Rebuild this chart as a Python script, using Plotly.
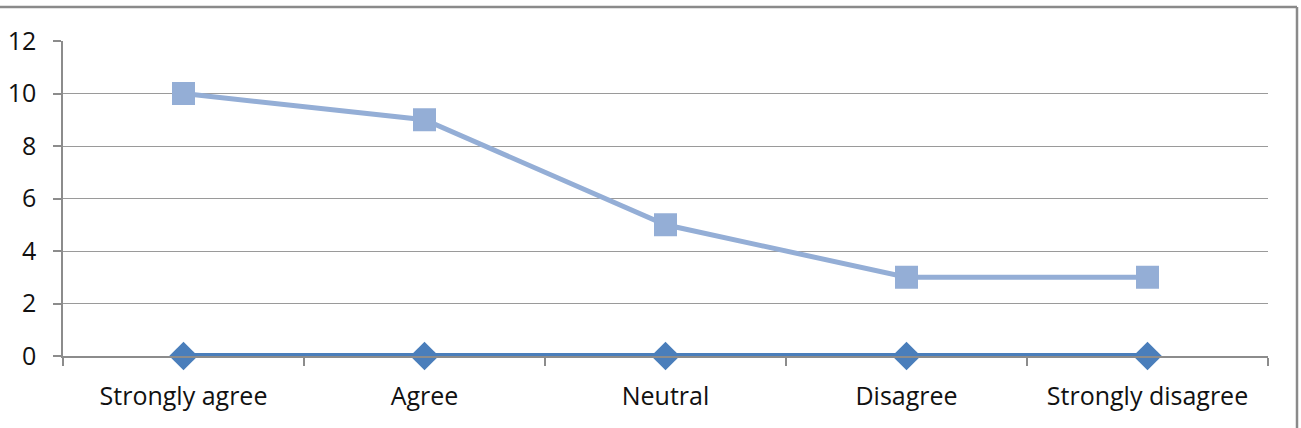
import plotly.graph_objects as go

categories = ["Strongly agree", "Agree", "Neutral", "Disagree", "Strongly disagree"]
series_light = [10, 9, 5, 3, 3]
series_dark = [0, 0, 0, 0, 0]
y_ticks = [0, 2, 4, 6, 8, 10, 12]

W, H = 1301, 428
L, R, T, B = 63, 33, 41, 72
pw, ph = W - L - R, H - T - B

fig = go.Figure()
fig.add_trace(go.Scatter(
    x=categories, y=series_dark, mode="lines+markers",
    line=dict(color="#4A7EBB", width=6),
    marker=dict(symbol="diamond", size=22, color="#4A7EBB"),
    showlegend=False, cliponaxis=False))
fig.add_trace(go.Scatter(
    x=categories, y=series_light, mode="lines+markers",
    line=dict(color="#94AED6", width=5),
    marker=dict(symbol="square", size=23, color="#94AED6"),
    showlegend=False, cliponaxis=False))

def px_x(p):
    return (p - L) / pw

def px_y(p):
    return (H - B - p) / ph

fig.update_layout(
    width=W, height=H,
    margin=dict(l=L, r=R, t=T, b=B),
    paper_bgcolor="white", plot_bgcolor="white",
    font=dict(family="Open Sans", size=25, color="#111111"),
    xaxis=dict(
        type="category", range=[-0.5, 4.5], tickson="boundaries",
        showline=True, linecolor="#8C8C8C", linewidth=1.5,
        ticks="outside", ticklen=8, tickcolor="#8C8C8C", tickwidth=1.5,
        showgrid=False, tickfont=dict(size=25), ticklabelstandoff=17,
        automargin=False,
    ),
    yaxis=dict(
        range=[0, 12], tickvals=y_ticks,
        showline=True, linecolor="#8C8C8C", linewidth=1.5,
        ticks="outside", ticklen=8, tickcolor="#8C8C8C", tickwidth=1.5,
        showgrid=True, gridcolor="#9A9A9A", gridwidth=1.3,
        zeroline=False, tickfont=dict(size=25), ticklabelstandoff=12,
        automargin=False,
    ),
    shapes=[
        dict(type="line", xref="paper", yref="paper",
             x0=px_x(-5), x1=px_x(1297), y0=px_y(7), y1=px_y(7),
             line=dict(color="#8A8A8A", width=2.5)),
        dict(type="line", xref="paper", yref="paper",
             x0=px_x(1297), x1=px_x(1297), y0=px_y(7), y1=px_y(435),
             line=dict(color="#8A8A8A", width=2.5)),
    ],
)

fig.write_html("out.html")
